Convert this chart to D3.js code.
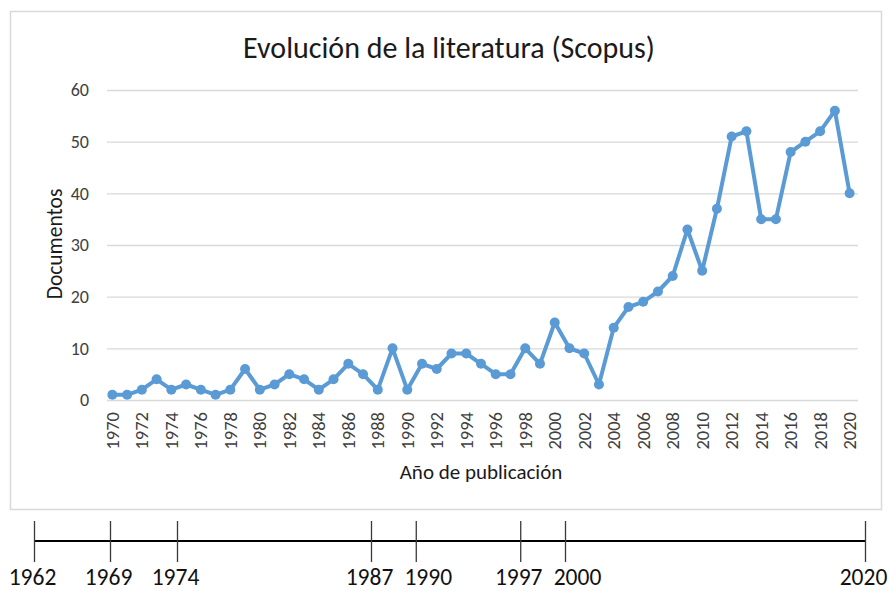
<!DOCTYPE html>
<html>
    <head>
        <meta charset="UTF-8">
        <script src="https://d3js.org/d3.v7.min.js"></script>
        <style>
            body { margin: 0; background: #fff; }
            text { font-family: Carlito, Lato, "Liberation Sans", sans-serif; fill: #404040; }
        </style>
    </head>
    <body>
        <div id='chart'></div>
        <script type='text/javascript'>
            // data
            var years = d3.range(1970, 2021);
            var documentos = [1, 1, 2, 4, 2, 3, 2, 1, 2, 6,
                              2, 3, 5, 4, 2, 4, 7, 5, 2, 10,
                              2, 7, 6, 9, 9, 7, 5, 5, 10, 7,
                              15, 10, 9, 3, 14, 18, 19, 21, 24, 33,
                              25, 37, 51, 52, 35, 35, 48, 50, 52, 56,
                              40];
            var yTicks = [0, 10, 20, 30, 40, 50, 60];
            var milestones = [1962, 1969, 1974, 1987, 1990, 1997, 2000, 2020];

            var width = 890;
            var height = 591;

            var svg = d3.select("#chart")
                .append("svg")
                .attr("width", width)
                .attr("height", height);

            // chart frame
            svg.append("rect")
                .attr("x", 10.5)
                .attr("y", 11.5)
                .attr("width", 871)
                .attr("height", 498)
                .attr("fill", "#fff")
                .attr("stroke", "#d9d9d9")
                .attr("stroke-width", 1.5);

            var xscale = d3.scaleBand()
                .domain(years)
                .range([105, 857]);
            var yscale = d3.scaleLinear()
                .domain([0, 60])
                .range([400, 90]);

            // gridlines
            svg.append("g")
                .selectAll("line")
                .data(yTicks)
                .enter()
                .append("line")
                .attr("x1", 107)
                .attr("x2", 858)
                .attr("y1", d => yscale(d) + 0.5)
                .attr("y2", d => yscale(d) + 0.5)
                .attr("stroke", "#d9d9d9")
                .attr("stroke-width", 1.3);

            // y labels
            svg.append("g")
                .selectAll("text")
                .data(yTicks)
                .enter()
                .append("text")
                .attr("x", 89)
                .attr("y", d => yscale(d))
                .attr("dy", "0.35em")
                .attr("text-anchor", "end")
                .style("font-size", "18px")
                .text(d => d);

            // x labels (rotated)
            svg.append("g")
                .selectAll("text")
                .data(years.filter(d => d % 2 == 0))
                .enter()
                .append("text")
                .attr("transform", d => "translate(" + (xscale(d) + xscale.bandwidth() / 2) + ",412) rotate(-90)")
                .attr("dy", "0.35em")
                .attr("text-anchor", "end")
                .style("font-size", "18.5px")
                .text(d => d);

            var cx = (d, i) => xscale(years[i]) + xscale.bandwidth() / 2;

            var lineGenerator = d3.line()
                .x(cx)
                .y(d => yscale(d));

            svg.append("path")
                .datum(documentos)
                .attr("d", lineGenerator)
                .attr("fill", "none")
                .attr("stroke", "#5b9bd5")
                .attr("stroke-width", 4)
                .attr("stroke-linejoin", "round");

            svg.append("g")
                .selectAll("circle")
                .data(documentos)
                .enter()
                .append("circle")
                .attr("cx", cx)
                .attr("cy", d => yscale(d))
                .attr("r", 5)
                .attr("fill", "#5b9bd5");

            // titles
            svg.append("text")
                .attr("x", 449)
                .attr("y", 58)
                .attr("text-anchor", "middle")
                .style("font-size", "30px")
                .style("fill", "#1a1a1a")
                .text("Evolución de la literatura (Scopus)");

            svg.append("text")
                .attr("x", 481)
                .attr("y", 479)
                .attr("text-anchor", "middle")
                .style("font-size", "21px")
                .style("fill", "#1a1a1a")
                .text("Año de publicación");

            svg.append("text")
                .attr("transform", "translate(62,244) rotate(-90)")
                .attr("text-anchor", "middle")
                .style("font-size", "21.5px")
                .style("fill", "#1a1a1a")
                .text("Documentos");

            // timeline below the chart (uneven hand-placed spacing)
            var tscale = d3.scaleLinear()
                .domain([1962, 1969, 1974, 2000, 2020])
                .range([34.5, 110.5, 177.5, 565.5, 865.5]);

            svg.append("line")
                .attr("x1", tscale(1962))
                .attr("x2", tscale(2020))
                .attr("y1", 541)
                .attr("y2", 541)
                .attr("stroke", "#000")
                .attr("stroke-width", 2);

            svg.append("g")
                .selectAll("line")
                .data(milestones)
                .enter()
                .append("line")
                .attr("x1", d => tscale(d))
                .attr("x2", d => tscale(d))
                .attr("y1", 521)
                .attr("y2", 562)
                .attr("stroke", "#3a3a3a")
                .attr("stroke-width", 1.3);

            // labels that sit close after another milestone are nudged right
            svg.append("g")
                .selectAll("text")
                .data(milestones)
                .enter()
                .append("text")
                .attr("x", (d, i) => tscale(d) + (i > 0 && d - milestones[i - 1] <= 3 ? 12 : -2))
                .attr("y", 585)
                .attr("text-anchor", "middle")
                .style("font-size", "23.5px")
                .style("fill", "#111")
                .text(d => d);
        </script>
    </body>
</html>
